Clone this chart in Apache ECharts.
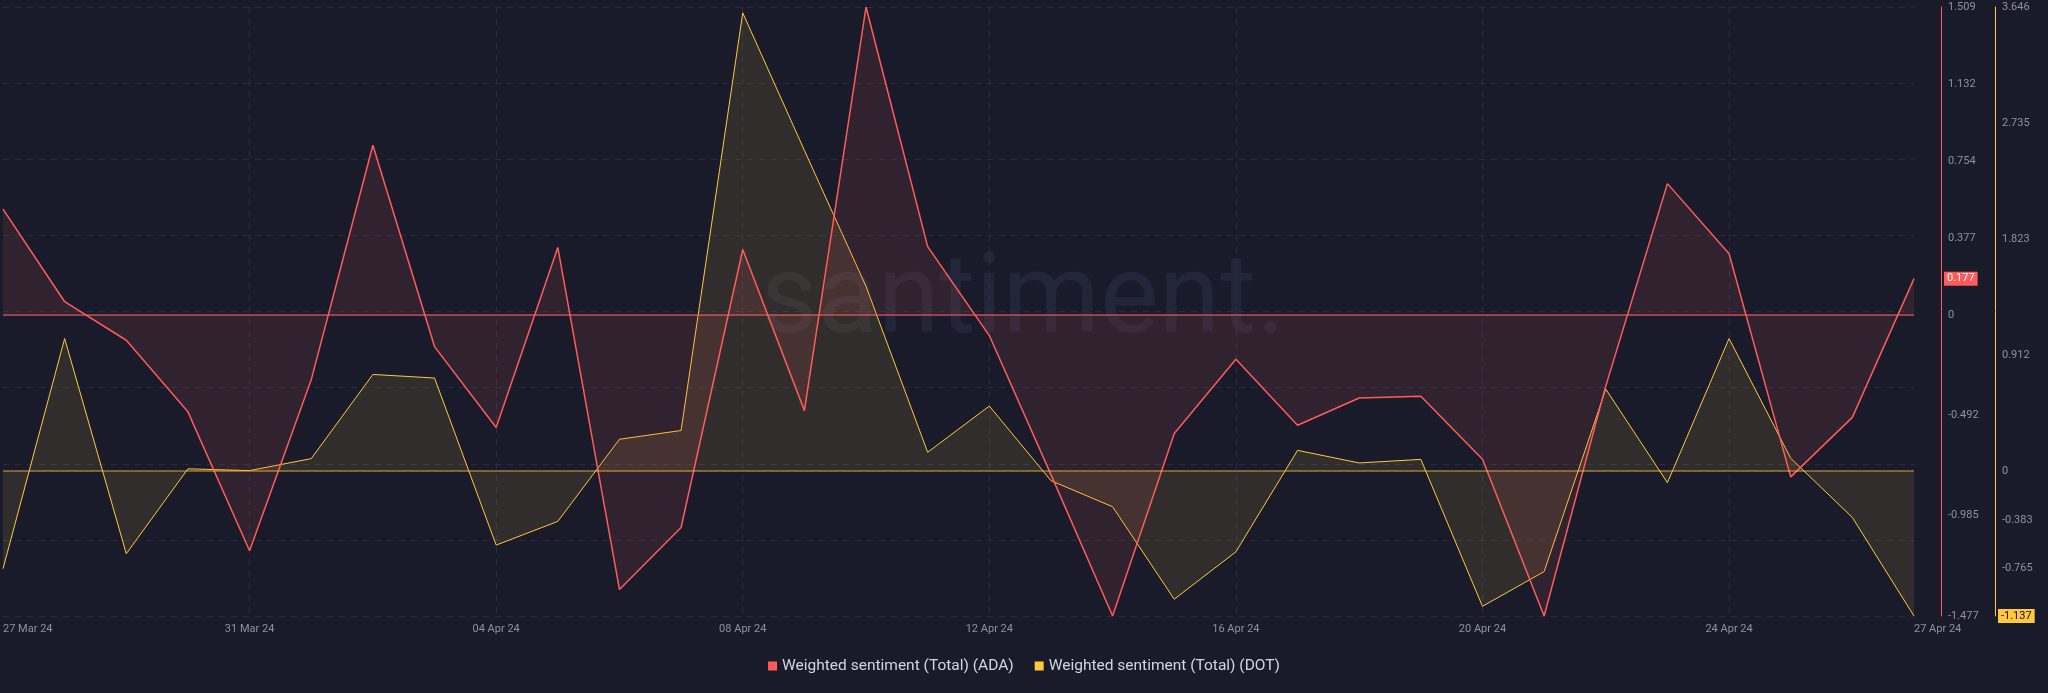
<!DOCTYPE html>
<html><head><meta charset="utf-8">
<script src="https://cdn.jsdelivr.net/npm/echarts@6/dist/echarts.min.js"></script>
<style>html,body{margin:0;padding:0;background:#191b2b;}#c{width:2048px;height:693px;}</style>
</head><body><div id="c"></div>
<script>
const dates = ['27 Mar 24','28 Mar 24','29 Mar 24','30 Mar 24','31 Mar 24',
  '01 Apr 24','02 Apr 24','03 Apr 24','04 Apr 24','05 Apr 24','06 Apr 24','07 Apr 24','08 Apr 24',
  '09 Apr 24','10 Apr 24','11 Apr 24','12 Apr 24','13 Apr 24','14 Apr 24','15 Apr 24','16 Apr 24',
  '17 Apr 24','18 Apr 24','19 Apr 24','20 Apr 24','21 Apr 24','22 Apr 24','23 Apr 24','24 Apr 24',
  '25 Apr 24','26 Apr 24','27 Apr 24'];
const xLabelDates = ['27 Mar 24','31 Mar 24','04 Apr 24','08 Apr 24','12 Apr 24','16 Apr 24','20 Apr 24','24 Apr 24','27 Apr 24'];
const adaValues = [0.518,0.064,-0.125,-0.476,-1.157,-0.319,0.831,-0.156,-0.553,0.330,-1.347,-1.043,
  0.320,-0.470,1.509,0.334,-0.102,-0.784,-1.477,-0.582,-0.218,-0.542,-0.408,-0.400,-0.708,-1.477,
  -0.350,0.643,0.299,-0.795,-0.503,0.177];
const dotValues = [-0.766,1.042,-0.648,0.019,0.005,0.099,0.760,0.732,-0.580,-0.394,0.251,0.320,
  3.600,2.520,1.452,0.149,0.512,-0.074,-0.279,-1.005,-0.633,0.164,0.065,0.093,-1.061,-0.788,
  0.645,-0.090,1.042,0.102,-0.363,-1.137];
const adaTicks = [-1.477,-0.985,-0.492,0,0.377,0.754,1.132,1.509];
const dotTicks = [-0.765,-0.383,0,0.912,1.823,2.735,3.646];
const adaRange = [-1.477, 1.509];
const dotRange = [-1.137, 3.646];
const seriesNames = ['Weighted sentiment (Total) (ADA)','Weighted sentiment (Total) (DOT)'];

const RED = '#ff5b5b', YEL = '#ffc83d';
const FONT = 'Roboto';
const gridColor = '#2a2d42';
const fmt = v => (v === 0 ? '0' : v.toFixed(3));
const last = dates.length - 1;

const chart = echarts.init(document.getElementById('c'), null, {renderer: 'canvas'});
chart.setOption({
  backgroundColor: '#191b2b',
  animation: false,
  textStyle: {fontFamily: FONT},
  graphic: [{
    type: 'text', z: 0, silent: true,
    style: {text: 'santiment.', x: 1023, y: 304, align: 'center', verticalAlign: 'middle',
      font: '400 111px Roboto', fill: '#232639'}
  }],
  grid: {left: 0, right: 134, top: 7, bottom: 77, containLabel: false},
  legend: {
    bottom: 14, left: 'center', icon: 'rect', itemWidth: 9, itemHeight: 9, itemGap: 21,
    textStyle: {color: '#d3d5de', fontSize: 15.5, fontFamily: FONT},
    data: seriesNames
  },
  xAxis: {
    type: 'category', boundaryGap: false, data: dates,
    axisLine: {show: true, lineStyle: {color: gridColor}},
    axisTick: {show: false},
    axisLabel: {
      color: '#8d91a5', fontSize: 11, margin: 8,
      interval: (i, v) => xLabelDates.includes(v),
      alignMinLabel: 'left', alignMaxLabel: 'left'
    },
    splitLine: {
      show: true, interval: (i, v) => xLabelDates.includes(v) && i !== 0 && i !== last,
      lineStyle: {color: gridColor, type: [6, 6]}
    }
  },
  yAxis: [
    {
      type: 'value', position: 'right', offset: 27, min: adaRange[0], max: adaRange[1],
      axisLine: {show: true, lineStyle: {color: RED, width: 1}},
      axisTick: {show: false},
      splitLine: {show: false},
      axisLabel: {customValues: adaTicks, formatter: fmt, color: '#8d91a5', fontSize: 11, margin: 7}
    },
    {
      type: 'value', position: 'right', offset: 81, min: dotRange[0], max: dotRange[1],
      axisLine: {show: true, lineStyle: {color: YEL, width: 1}},
      axisTick: {show: false},
      splitLine: {show: false},
      axisLabel: {customValues: dotTicks, formatter: fmt, color: '#8d91a5', fontSize: 11, margin: 7}
    },
    {
      type: 'value', position: 'left', min: 0, max: 8, interval: 1,
      axisLine: {show: false}, axisTick: {show: false}, axisLabel: {show: false},
      splitLine: {show: true, lineStyle: {color: gridColor, type: [6, 6]}}
    }
  ],
  series: [
    {
      name: seriesNames[1], type: 'line', yAxisIndex: 1, data: dotValues,
      symbol: 'none', z: 3,
      lineStyle: {color: YEL, width: 1}, itemStyle: {color: YEL},
      areaStyle: {color: 'rgba(255,200,61,0.15)', origin: 0},
      markLine: {
        silent: true, symbol: 'none', label: {show: false},
        lineStyle: {color: 'rgba(255,200,61,0.55)', type: 'solid', width: 1.5},
        data: [{yAxis: 0}]
      },
      markPoint: {
        silent: true, symbol: 'rect', symbolSize: 0,
        data: [{coord: [last, dotValues[last]], value: dotValues[last]}],
        label: {show: true, position: 'right', distance: 84, formatter: p => fmt(p.value),
          color: '#111', backgroundColor: YEL, padding: [2, 3, 1, 3], fontSize: 11, fontFamily: FONT}
      }
    },
    {
      name: seriesNames[0], type: 'line', yAxisIndex: 0, data: adaValues,
      symbol: 'none', z: 4,
      lineStyle: {color: RED, width: 1.5}, itemStyle: {color: RED},
      areaStyle: {color: 'rgba(255,91,91,0.15)', origin: 0},
      markLine: {
        silent: true, symbol: 'none', label: {show: false},
        lineStyle: {color: 'rgba(255,91,91,0.7)', type: 'solid', width: 1.5},
        data: [{yAxis: 0}]
      },
      markPoint: {
        silent: true, symbol: 'rect', symbolSize: 0,
        data: [{coord: [last, adaValues[last]], value: adaValues[last]}],
        label: {show: true, position: 'right', distance: 30, formatter: p => fmt(p.value),
          color: '#fff', backgroundColor: RED, padding: [2, 3, 1, 3], fontSize: 11, fontFamily: FONT}
      }
    }
  ]
});
</script>
</body></html>
